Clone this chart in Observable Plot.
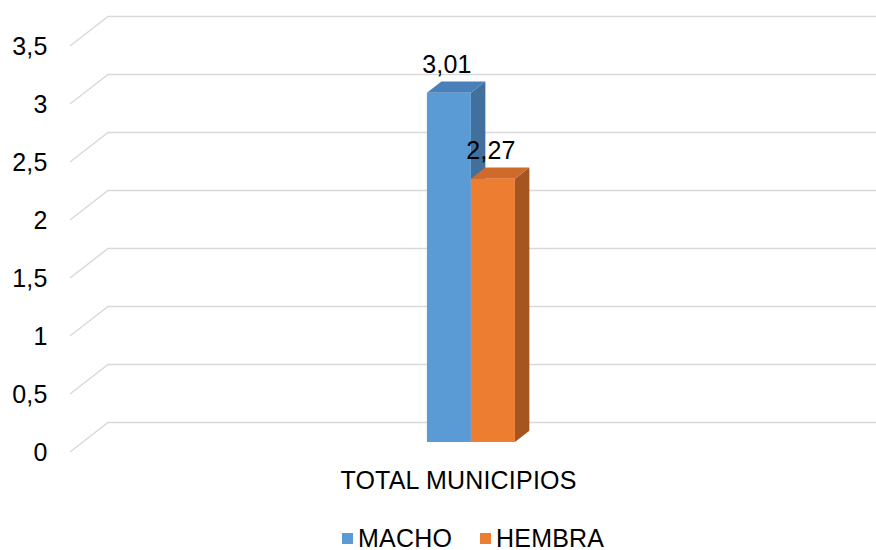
<!DOCTYPE html>
<html>
<head>
<meta charset="utf-8">
<script src="https://cdn.jsdelivr.net/npm/d3@7"></script>
<script src="https://cdn.jsdelivr.net/npm/@observablehq/plot@0.6"></script>
<style>
  html, body { margin: 0; padding: 0; background: #fff; overflow: hidden; }
  #chart svg { display: block; }
  .legend { display: flex; align-items: center; padding-left: 342px; padding-top: 6px; height: 28px;
            font: 25px "Liberation Sans", Arial, sans-serif; letter-spacing: 0.2px; color: #000; }
  .legend .item { display: flex; align-items: center; margin-right: 28px; }
  .legend .sw { width: 11px; height: 11px; margin-right: 5px; }
</style>
</head>
<body>
<div id="chart"></div>
<div class="legend" id="legend"></div>
<script>
// Data
const categories = ["TOTAL MUNICIPIOS"];
const seriesNames = ["MACHO", "HEMBRA"];
const seriesValues = [3.01, 2.27];
const yTicks = [0, 0.5, 1, 1.5, 2, 2.5, 3, 3.5];

// Face colours of the 3-D columns
const frontColors = ["#5b9bd5", "#ed7d31"];
const topColors = ["#4a80b9", "#cf6a2b"];
const sideColors = ["#41709c", "#a5551f"];

const rows = seriesNames.map((s, i) => ({category: categories[0], series: s, value: seriesValues[i]}));

const fmt = (v, digits) => (digits == null ? String(v) : v.toFixed(digits)).replace(".", ",");

// Oblique projection: screen offset for the full depth of the plot box
const depth = [38, -29.5];
const barFront = 0.34, barBack = 0.72;
const off = (z) => [depth[0] * z, depth[1] * z];

// Back-wall gridlines with their slanted run from the front edge
function backWall(index, scales, values, dimensions) {
  const {y} = scales;
  const {marginLeft, width} = dimensions;
  const g = d3.create("svg:g");
  g.selectAll("path").data(yTicks).join("path")
    .attr("d", t => `M${marginLeft},${y(t)}l${depth[0]},${depth[1]}H${width + 40}`)
    .attr("fill", "none")
    .attr("stroke", "#d9d9d9")
    .attr("stroke-width", 1.5);
  return g.node();
}

// Right side and top faces of each column
function columnFaces(index, scales) {
  const {x, y} = scales;
  const bw = typeof x.bandwidth === "function" ? x.bandwidth() : x.bandwidth;
  const f = off(barFront), b = off(barBack);
  const g = d3.create("svg:g");
  rows.forEach((d, i) => {
    const x1 = x(d.series), x2 = x1 + bw, y0 = y(0), yv = y(d.value);
    g.append("path")
      .attr("d", `M${x2 + f[0]},${yv + f[1]}L${x2 + b[0]},${yv + b[1]}L${x2 + b[0]},${y0 + b[1]}L${x2 + f[0]},${y0 + f[1]}Z`)
      .attr("fill", sideColors[i]);
    g.append("path")
      .attr("d", `M${x1 + f[0]},${yv + f[1]}L${x2 + f[0]},${yv + f[1]}L${x2 + b[0]},${yv + b[1]}L${x1 + b[0]},${yv + b[1]}Z`)
      .attr("fill", topColors[i]);
  });
  return g.node();
}

const W = 876, H = 518;
const mL = 70, mR = 30, mT = 46, mB = 66;
const barWidth = 44;
const facetWidth = W - mL - mR;
const outerPad = (facetWidth / barWidth - seriesNames.length) / 2;
const fo = off(barFront);

const chart = Plot.plot({
  width: W,
  height: H,
  marginLeft: mL,
  marginRight: mR,
  marginTop: mT,
  marginBottom: mB,
  style: {fontFamily: "'Liberation Sans', Arial, sans-serif", fontSize: "25px", letterSpacing: "0.2px", color: "#000", background: "#fff"},
  fx: {domain: categories, padding: 0, axis: "bottom", label: null, tickSize: 0, tickPadding: 19},
  x: {domain: seriesNames, paddingInner: 0, paddingOuter: outerPad, axis: null},
  y: {domain: [0, 3.5], ticks: yTicks, tickFormat: d => fmt(d), tickSize: 0, tickPadding: 23, label: null},
  color: {domain: seriesNames, range: frontColors},
  marks: [
    backWall,
    columnFaces,
    Plot.barY(rows, {fx: "category", x: "series", y: "value", fill: "series", dx: fo[0], dy: fo[1]}),
    Plot.text(rows, {fx: "category", x: "series", y: "value", text: d => fmt(d.value, 2),
                     dx: 10.5, dy: -38, fill: "#000", fontSize: 25})
  ]
});
document.getElementById("chart").appendChild(chart);

// Legend
const legend = d3.select("#legend");
seriesNames.forEach((s, i) => {
  const item = legend.append("div").attr("class", "item");
  item.append("div").attr("class", "sw").style("background", frontColors[i]);
  item.append("span").text(s);
});
</script>
</body>
</html>
